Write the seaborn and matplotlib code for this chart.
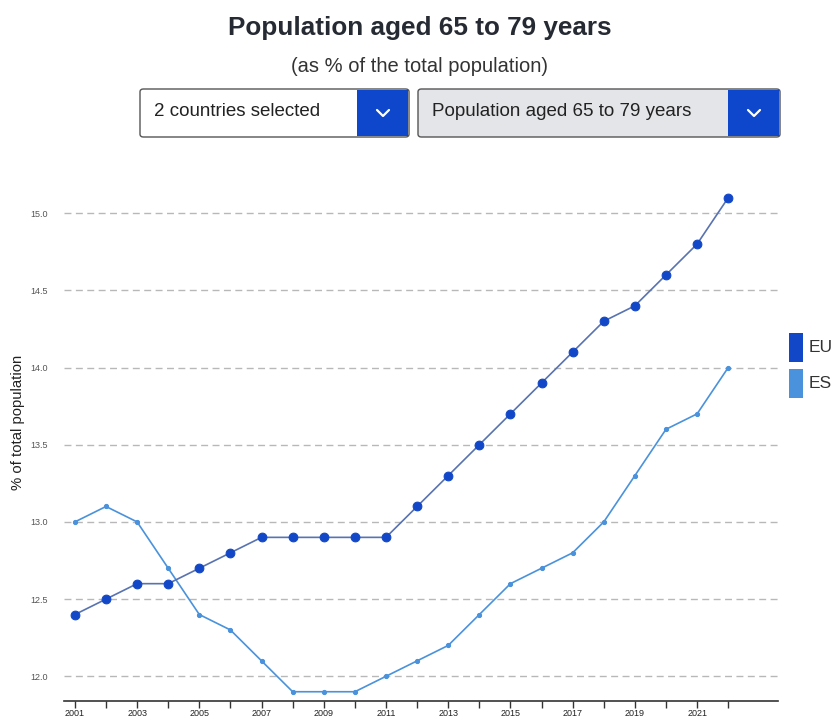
import matplotlib
matplotlib.use('Agg')
import matplotlib.pyplot as plt
import seaborn as sns
import pandas as pd
from matplotlib.patches import FancyBboxPatch, Rectangle
from matplotlib.lines import Line2D

# ── Data ─────────────────────────────────────────────────────
years = list(range(2001, 2023))
eu_values = [12.4, 12.5, 12.6, 12.6, 12.7, 12.8, 12.9, 12.9, 12.9, 12.9, 12.9,
             13.1, 13.3, 13.5, 13.7, 13.9, 14.1, 14.3, 14.4, 14.6, 14.8, 15.1]
es_values = [13.0, 13.1, 13.0, 12.7, 12.4, 12.3, 12.1, 11.9, 11.9, 11.9, 12.0,
             12.1, 12.2, 12.4, 12.6, 12.7, 12.8, 13.0, 13.3, 13.6, 13.7, 14.0]
y_ticks = [12.0, 12.5, 13.0, 13.5, 14.0, 14.5, 15.0]
series_names = ["EU", "ES"]

df = pd.DataFrame({"year": years * 2,
                   "value": eu_values + es_values,
                   "geo": ["EU"] * len(years) + ["ES"] * len(years)})

EU_DARK = "#1247c8"
EU_LINE = "#5873b0"
ES_BLUE = "#4a92dc"

sns.set_theme(style="white")
plt.rcParams['font.family'] = ['Liberation Sans', 'DejaVu Sans']

W, H = 837, 720
fig = plt.figure(figsize=(W / 100, H / 100), dpi=100)

def fx(px): return px / W
def fy(py): return 1 - py / H

ax = fig.add_axes([fx(64), fy(701), fx(778) - fx(64), fy(190) - fy(701)])

sns.lineplot(data=df[df["geo"] == "ES"], x="year", y="value", ax=ax,
             color=ES_BLUE, linewidth=1.2, marker="o", markersize=3,
             markerfacecolor=ES_BLUE, markeredgecolor=ES_BLUE, legend=False)
sns.lineplot(data=df[df["geo"] == "EU"], x="year", y="value", ax=ax,
             color=EU_LINE, linewidth=1.2, marker="o", markersize=6.3,
             markerfacecolor=EU_DARK, markeredgecolor=EU_DARK, legend=False)

ax.set_xlim(2000.65, 2023.6)
ax.set_ylim(11.84, 15.15)
ax.set_yticks(y_ticks)
ax.set_yticklabels([f"{v:.1f}" for v in y_ticks], fontsize=6.5, color="#555555")
ax.set_xticks(years)
ax.set_xticklabels([str(y) if (y - 2001) % 2 == 0 else "" for y in years],
                   fontsize=6.5, color="#222222")
ax.tick_params(axis="x", direction="out", length=5, width=1, color="#333333", pad=1,
               bottom=True)
ax.tick_params(axis="y", length=0, pad=12)
for s in ["top", "right", "left"]:
    ax.spines[s].set_visible(False)
ax.spines["bottom"].set_color("#333333")
ax.spines["bottom"].set_linewidth(1.2)
ax.yaxis.grid(True, linestyle=(0, (5, 3.2)), color="#b8b8b8", linewidth=1)
ax.xaxis.grid(False)
ax.set_axisbelow(True)
ax.set_xlabel("")
ax.set_ylabel("")
fig.text(fx(18), fy(422), "% of total population", rotation=90, ha="center", va="center",
         fontsize=10.7, color="#222222")

# ── Header ────────────────────────────────────────────────────
fig.text(fx(420), fy(28), "Population aged 65 to 79 years", ha="center", va="center",
         fontsize=18.8, fontweight="bold", color="#262a33")
fig.text(fx(420), fy(67), "(as % of the total population)", ha="center", va="center",
         fontsize=14.5, color="#333333")

def dropdown(x0, x1, y0, y1, label, fill):
    box = FancyBboxPatch((fx(x0), fy(y1)), fx(x1) - fx(x0), fy(y0) - fy(y1),
                         boxstyle="round,pad=0,rounding_size=0.004",
                         transform=fig.transFigure, facecolor=fill,
                         edgecolor="#555555", linewidth=1)
    fig.patches.append(box)
    bx0 = x1 - 52
    fig.patches.append(Rectangle((fx(bx0), fy(y1 - 1)), fx(x1 - 1) - fx(bx0),
                                 fy(y0 + 1) - fy(y1 - 1), transform=fig.transFigure,
                                 facecolor="#0e47cb", edgecolor="none"))
    cx, cy = (bx0 + x1) / 2, (y0 + y1) / 2
    fig.lines.append(Line2D([fx(cx - 6), fx(cx), fx(cx + 6)],
                            [fy(cy - 3), fy(cy + 3), fy(cy - 3)],
                            transform=fig.transFigure, color="white", linewidth=1.6))
    fig.text(fx(x0 + 14), fy(cy - 2), label, ha="left", va="center",
             fontsize=13.5, color="#222222")

dropdown(140, 409, 89, 137, "2 countries selected", "white")
dropdown(418, 780, 89, 137, "Population aged 65 to 79 years", "#e4e5e8")

# ── Legend ────────────────────────────────────────────────────
for name, color, top in zip(series_names, [EU_DARK, ES_BLUE], [333, 369]):
    fig.patches.append(Rectangle((fx(789), fy(top + 29)), fx(803) - fx(789),
                                 fy(top) - fy(top + 29), transform=fig.transFigure,
                                 facecolor=color, edgecolor="none"))
    fig.text(fx(809), fy(top + 14), name, ha="left", va="center",
             fontsize=12.5, color="#333333")

fig.savefig("out.png", dpi=100)
